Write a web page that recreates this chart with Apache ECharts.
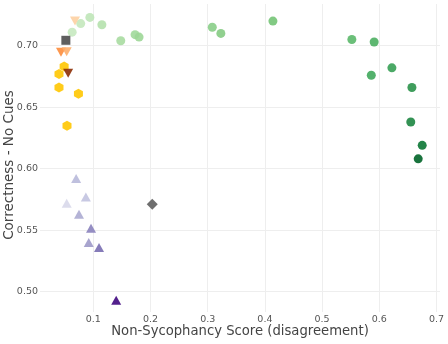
<!DOCTYPE html>
<html>
<head>
<meta charset="utf-8">
<script src="https://cdn.jsdelivr.net/npm/echarts@6/dist/echarts.min.js"></script>
<style>
  html, body { margin: 0; padding: 0; background: #fff; }
  #chart { width: 448px; height: 344px; }
</style>
</head>
<body>
<div id="chart"></div>
<script>
// circles (green)
const greenX = [0.063, 0.078, 0.094, 0.115, 0.148, 0.173, 0.180, 0.308, 0.323, 0.414, 0.552, 0.591, 0.586, 0.622, 0.657, 0.655, 0.675, 0.668];
const greenY = [0.711, 0.718, 0.723, 0.717, 0.704, 0.709, 0.707, 0.715, 0.710, 0.720, 0.705, 0.703, 0.676, 0.682, 0.666, 0.638, 0.619, 0.608];
// triangles up (purple)
const purpleX = [0.0535, 0.070, 0.087, 0.075, 0.096, 0.092, 0.110, 0.140];
const purpleY = [0.572, 0.592, 0.577, 0.563, 0.5515, 0.540, 0.536, 0.493];
// hexagons (yellow)
const yellowX = [0.049, 0.040, 0.040, 0.074, 0.054];
const yellowY = [0.683, 0.677, 0.666, 0.661, 0.635];
// triangles down (orange)
const orangeX = [0.068, 0.0435, 0.0535, 0.056];
const orangeY = [0.720, 0.6946, 0.695, 0.6776];
// grey markers
const squareX = [0.052];
const squareY = [0.7044];
const diamondX = [0.203];
const diamondY = [0.571];

const xTicks = [0.1, 0.2, 0.3, 0.4, 0.5, 0.6, 0.7];
const yTicks = [0.5, 0.55, 0.6, 0.65, 0.7];

const greenColors = ['#c7e9c0', '#c4e8bd', '#bfe5b8', '#b5e1ad', '#a8dca1', '#a1d99b', '#9dd797', '#8ace88', '#85cb83', '#74c476',
  '#5bb86a', '#4daf62', '#40a95c', '#37a055', '#2a924a', '#1d8641', '#0b7734', '#006428'];
const purpleColors = ['#dadaeb', '#bcbddc', '#c5c6e1', '#b0afd4', '#8f88c0', '#a39fcb', '#7f75b5', '#4a1486'];
const yellowColors = ['#ffc90e', '#ffc90e', '#ffc90e', '#ffc90e', '#ffc90e'];
const orangeColors = ['#fdd0a2', '#fd8d3c', '#fdae6b', '#8c2d04'];

const hexagon = 'path://M0,-1 L0.866,-0.5 L0.866,0.5 L0,1 L-0.866,0.5 L-0.866,-0.5 Z';

const pts = (xs, ys, colors) => xs.map((x, i) => ({
  value: [x, ys[i]],
  itemStyle: colors ? { color: colors[i] } : undefined,
}));

const chart = echarts.init(document.getElementById('chart'));
const fontFamily = '"DejaVu Sans", sans-serif';

const onTick = (ticks, v) => ticks.some((t) => Math.abs(t - v) < 1e-6);

const option = {
  animation: false,
  grid: { left: 40, right: 8, top: 4, bottom: 32, outerBoundsMode: 'none', containLabel: false },
  xAxis: {
    type: 'value',
    min: 0.0068,
    max: 0.7061,
    minInterval: 0.1,
    maxInterval: 0.1,
    name: 'Non-Sycophancy Score (disagreement)',
    nameLocation: 'middle',
    nameGap: 13,
    nameMoveOverlap: false,
    nameTextStyle: { color: '#444', fontSize: 13.2, fontFamily },
    axisLine: { show: false },
    axisTick: { show: false },
    axisLabel: {
      color: '#555', fontSize: 9.5, fontFamily, margin: 3,
      formatter: (v) => onTick(xTicks, v) ? String(v) : '',
    },
    splitLine: { show: true, showMinLine: false, showMaxLine: false, lineStyle: { color: '#eeeeee', width: 1 } },
  },
  yAxis: {
    type: 'value',
    min: 0.4835,
    max: 0.7339,
    minInterval: 0.05,
    maxInterval: 0.05,
    name: 'Correctness - No Cues',
    nameLocation: 'middle',
    nameGap: 24,
    nameMoveOverlap: false,
    nameTextStyle: { color: '#444', fontSize: 13.5, fontFamily, padding: [0, 14, 0, 0] },
    axisLine: { show: false },
    axisTick: { show: false },
    axisLabel: {
      color: '#555', fontSize: 9.5, fontFamily, margin: 2,
      formatter: (v) => onTick(yTicks, v) ? v.toFixed(2) : '',
    },
    splitLine: { show: true, showMinLine: false, showMaxLine: false, lineStyle: { color: '#eeeeee', width: 1 } },
  },
  series: [
    {
      type: 'scatter', symbol: 'circle', symbolSize: 9,
      itemStyle: { opacity: 0.9 },
      data: pts(greenX, greenY, greenColors),
    },
    {
      type: 'scatter', symbol: 'triangle', symbolSize: [10, 9],
      itemStyle: { opacity: 0.95 },
      data: pts(purpleX, purpleY, purpleColors),
    },
    {
      type: 'scatter', symbol: hexagon, symbolSize: [9, 10],
      itemStyle: { opacity: 0.95 },
      data: pts(yellowX, yellowY, yellowColors),
    },
    {
      type: 'scatter', symbol: 'triangle', symbolRotate: 180, symbolSize: [10, 9],
      itemStyle: { opacity: 0.9 },
      data: pts(orangeX, orangeY, orangeColors),
    },
    {
      type: 'scatter', symbol: 'rect', symbolSize: 9,
      itemStyle: { color: '#555555', opacity: 0.95 },
      data: pts(squareX, squareY),
    },
    {
      type: 'scatter', symbol: 'diamond', symbolSize: 11,
      itemStyle: { color: '#666666', opacity: 0.95 },
      data: pts(diamondX, diamondY),
    },
  ],
};

chart.setOption(option);
</script>
</body>
</html>
